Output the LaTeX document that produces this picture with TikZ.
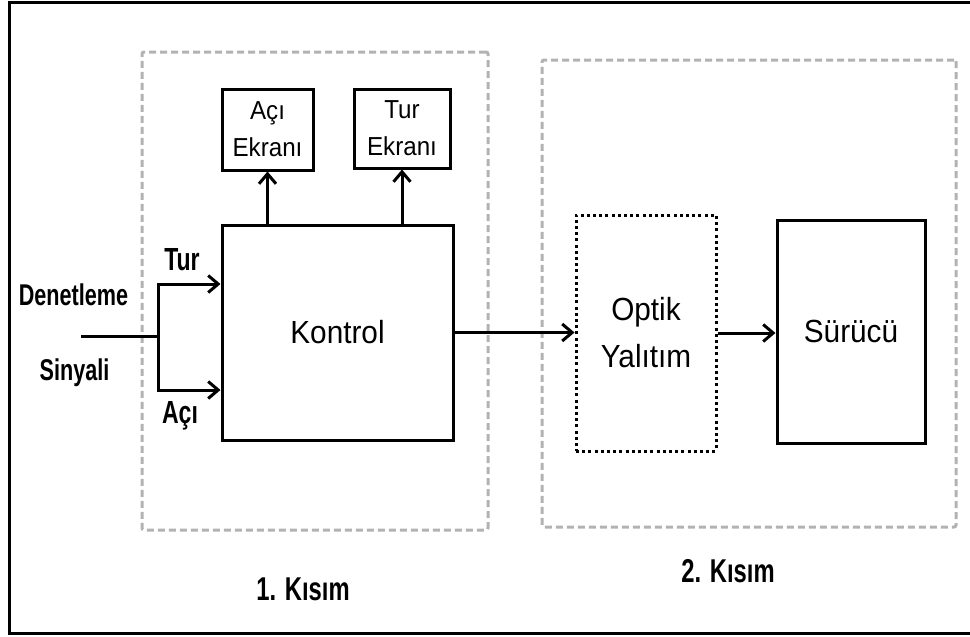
\documentclass[tikz,border=0pt]{standalone}
\usepackage{fontspec}
\setmainfont{Liberation Sans}[FakeStretch=0.93]
\newfontfamily\lblfont{Liberation Sans}[FakeStretch=0.72]
\usetikzlibrary{arrows.meta,positioning}
\definecolor{kisimgray}{RGB}{178,178,178}
\tikzset{
  % blocks
  blok/.style={rectangle,draw,line width=3pt,inner sep=0pt},  % solid block
  noktablok/.style={rectangle,draw,line width=3pt,dash pattern=on 3pt off 3.2pt,inner sep=0pt},  % dotted block
  kisim/.style={rectangle,draw=kisimgray,line width=3pt,dash pattern=on 7pt off 4pt,rounded corners=2pt,inner sep=0pt},  % part frame
  % texts
  kutuyazi/.style={font=\fontsize{32}{47}\selectfont,align=center},
  ekranyazi/.style={font=\fontsize{26}{37}\selectfont,align=center},
  etiket/.style={font=\lblfont\bfseries\fontsize{#1}{#1}\selectfont},
  etiket/.default=30,
  % connectors
  hat/.style={line width=3pt},
  ok/.style={line width=3pt,-{Straight Barb[length=10pt,width=17pt]}}
}
\begin{document}
\begin{tikzpicture}[x=1pt,y=-1pt]
  \useasboundingbox (0,0) rectangle (970,637);
  \draw[line width=3pt] (975,2) -- (9,2) -- (9,633) -- (975,633);
  %%%%%%%%%%%%%%%%%%%%%%%%%%%%%%%%%%%%%%%
  \node[kisim,minimum width=346pt,minimum height=478pt] (bolum1) at (315,291) {};
  \node[kisim,minimum width=414pt,minimum height=467pt] (bolum2) at (749,293.5) {};
  %%%%%%%%%%%%%%%%%%%%%%%%%%%%%%%%%%%%%%%
  \node[blok,kutuyazi,minimum width=231pt,minimum height=215pt] (kontrol) at (337.5,332.5) {Kontrol};
  \node[blok,ekranyazi,minimum width=91pt,minimum height=81pt] (aciekran) at (267.5,129.5) {Açı\\Ekranı};
  \node[blok,ekranyazi,minimum width=96pt,minimum height=79pt] (turekran) at (402,128.5) {Tur\\Ekranı};
  \node[noktablok,kutuyazi,minimum width=140pt,minimum height=236pt] (optik) at (646,333) {Optik\\Yalıtım};
  \node[blok,kutuyazi,minimum width=148pt,minimum height=223pt] (surucu) at (851,331.5) {Sürücü};
  %%%%%%%%%%%%%%%%%%%%%%%%%%%%%%%%%%%%%%%
  \coordinate (giris) at (81,336);
  \coordinate (dal) at (158,336);
  \draw[hat] (giris) -- (dal);
  \draw[ok] (dal) |- ([yshift=48.5pt]kontrol.west);
  \draw[ok] (dal) |- ([yshift=-57.5pt]kontrol.west);
  \draw[ok] (kontrol.north -| aciekran.south) -- (aciekran.south);
  \draw[ok] (kontrol.north -| turekran.south) -- (turekran.south);
  \draw[ok] (kontrol.east) -- (kontrol.east -| optik.west);
  \draw[ok] (optik.east) -- (optik.east -| surucu.west);
  %%%%%%%%%%%%%%%%%%%%%%%%%%%%%%%%%%%%%%%
  \node[etiket] (denetleme) at (73.5,295) {Denetleme};
  \node[etiket] (sinyali) at (74.5,373) {Sinyali};
  \node[etiket=32] (turlbl) at (182,260) {Tur};
  \node[etiket=32] (acilbl) at (180,416) {Açı};
  \node[etiket=33] (kisim1lbl) at (303,589) {1. Kısım};
  \node[etiket=33] (kisim2lbl) at (728,571) {2. Kısım};
\end{tikzpicture}
\end{document}
